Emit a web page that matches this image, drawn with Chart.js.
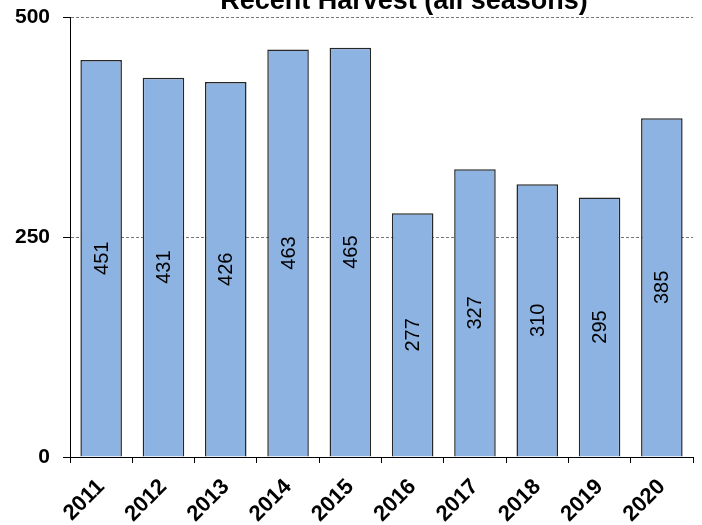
<!DOCTYPE html>
<html>
<head>
<meta charset="utf-8">
<script src="https://cdn.jsdelivr.net/npm/chart.js@4/dist/chart.umd.min.js"></script>
<style>
    html, body { margin: 0; padding: 0; background: #fff; }
    #wrap { width: 702px; height: 525px; }
</style>
</head>
<body>
<div id="wrap"><canvas id="harvestChart"></canvas></div>
<script>
// Dados do gráfico
const years = ['2011', '2012', '2013', '2014', '2015', '2016', '2017', '2018', '2019', '2020'];
const harvest = [451, 431, 426, 463, 465, 277, 327, 310, 295, 385];
const yTicks = [0, 250, 500];
const chartTitle = 'Recent Harvest (all seasons)';

const FONT = '"Liberation Sans", Arial, sans-serif';

// Rótulos verticais dentro das barras
const barLabels = {
    id: 'barLabels',
    afterDatasetsDraw(chart) {
        const ctx = chart.ctx;
        const meta = chart.getDatasetMeta(0);
        ctx.save();
        ctx.fillStyle = '#000';
        ctx.font = '20px ' + FONT;
        ctx.textAlign = 'center';
        ctx.textBaseline = 'middle';
        meta.data.forEach((bar, i) => {
            const cy = (bar.y + bar.base) / 2;
            ctx.save();
            ctx.translate(bar.x + 1, cy);
            ctx.rotate(-Math.PI / 2);
            ctx.fillText(String(harvest[i]), 0, 0);
            ctx.restore();
        });
        ctx.restore();
    }
};

// Título (cortado no topo, como no original)
const topTitle = {
    id: 'topTitle',
    afterDraw(chart) {
        const ctx = chart.ctx;
        ctx.save();
        ctx.fillStyle = '#000';
        ctx.font = 'bold 27px ' + FONT;
        ctx.textAlign = 'center';
        ctx.textBaseline = 'alphabetic';
        ctx.fillText(chartTitle, 404, 9);
        ctx.restore();
    }
};

new Chart(document.getElementById('harvestChart'), {
    type: 'bar',
    data: {
        labels: years,
        datasets: [{
            data: harvest,
            backgroundColor: '#8DB3E2',
            borderColor: '#262626',
            borderWidth: 1.5,
            barPercentage: 0.667,
            categoryPercentage: 1
        }]
    },
    options: {
        responsive: true,
        maintainAspectRatio: false,
        animation: false,
        layout: { padding: { top: 17, right: 9, left: 0, bottom: 0 } },
        plugins: {
            legend: { display: false },
            tooltip: { enabled: false }
        },
        scales: {
            x: {
                afterFit(scale) { scale.height = 68; },
                grid: {
                    offset: true,
                    drawOnChartArea: false,
                    tickLength: 6,
                    tickColor: '#000',
                    tickWidth: 1
                },
                border: { color: '#000', width: 1 },
                ticks: {
                    color: '#000',
                    font: { family: FONT, size: 22, weight: 'bold' },
                    maxRotation: 45,
                    minRotation: 45,
                    padding: 11
                }
            },
            y: {
                min: 0,
                max: 500,
                afterFit(scale) {
                    scale.width = 70;
                    scale.paddingTop = 0;
                    scale.paddingBottom = 0;
                },
                afterBuildTicks(scale) {
                    scale.ticks = yTicks.map(v => ({ value: v }));
                },
                grid: {
                    color: ctx => ctx.tick && ctx.tick.value === 0 ? 'rgba(0,0,0,0)' : '#777',
                    lineWidth: 1,
                    tickLength: 7,
                    tickColor: '#000',
                    tickWidth: 1
                },
                border: { color: '#000', width: 1, dash: [3, 2] },
                ticks: {
                    color: '#000',
                    font: { family: FONT, size: 21, weight: 'bold' },
                    padding: 13
                }
            }
        }
    },
    plugins: [barLabels, topTitle]
});
</script>
</body>
</html>
